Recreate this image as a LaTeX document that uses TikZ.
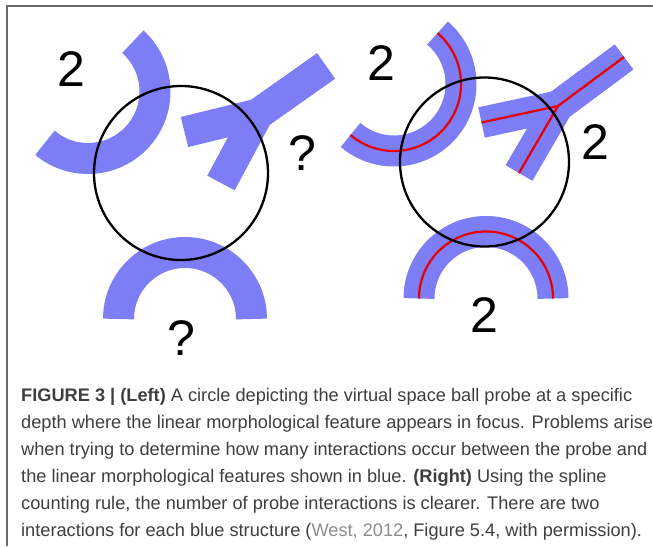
\documentclass[tikz,border=0pt]{standalone}
\usepackage{xcolor}
\usepackage{fontspec}
\setmainfont{Liberation Sans}
\usetikzlibrary{positioning}

\definecolor{dendrite}{RGB}{125,125,245}
\definecolor{spline}{RGB}{232,0,0}
\definecolor{captext}{RGB}{62,62,62}
\definecolor{citegray}{RGB}{140,140,140}
\definecolor{framegray}{RGB}{105,105,105}

\begin{document}
\begin{tikzpicture}[x=1pt, y=-1pt,
        branch/.style={draw=dendrite, line width=31pt, line cap=butt, line join=miter},
        midline/.style={draw=spline, line width=2.2pt, line join=miter},
        probe/.style={draw=black, line width=2.3pt, circle, inner sep=0pt},
        count/.style={font=\fontsize{50}{50}\selectfont, text=black, inner sep=0pt}]
        \useasboundingbox (0,0) rectangle (653,546);
        \draw[framegray, line width=1.7pt] (6.8,546) -- (6.8,5.8) -- (653,5.8);

        % left panel
        \coordinate (jL) at (258,114);
        \coordinate (aL) at (184.5,132);
        \coordinate (bL) at (326,66);
        \coordinate (cL) at (221,183);
        \draw[branch] ([shift={(-48:67)}]88,91.5) arc[start angle=-48, end angle=130, radius=67];
        \draw[branch] (aL) -- (jL) -- (bL);
        \draw[branch] (cL) -- (jL) -- (bL);
        \draw[branch] (118.5,319) arc[start angle=180, end angle=360, radius=66.5];
        \node[probe, minimum size=174pt] (probeL) at (181,173) {};
        \node[count] (twoL) at (71.5,69.5) {2};
        \node[count] (askY) at (302,153) {?};
        \node[count] (askU) at (181.5,338.5) {?};

        % right panel
        \coordinate (jR) at (558,106);
        \coordinate (aR) at (481.5,122.5);
        \coordinate (bR) at (624,57);
        \coordinate (cR) at (519,173);
        \draw[branch] ([shift={(-49.5:67)}]394,84) arc[start angle=-49.5, end angle=130.5, radius=67];
        \draw[branch] (aR) -- (jR) -- (bR);
        \draw[branch] (cR) -- (jR) -- (bR);
        \draw[branch] (419,298.5) arc[start angle=180, end angle=360, radius=67];
        \draw[midline] ([shift={(-49.5:67)}]394,84) arc[start angle=-49.5, end angle=130.5, radius=67];
        \draw[midline] (aR) -- (jR) -- (bR);
        \draw[midline] (cR) -- (jR);
        \draw[midline] (419,298.5) arc[start angle=180, end angle=360, radius=67];
        \node[probe, minimum size=169pt] (probeR) at (484.5,162) {};
        \node[count] (twoC) at (381,63) {2};
        \node[count] (twoY) at (595,142) {2};
        \node[count] (twoU) at (484.5,315.5) {2};

        % caption (anchored on its last baseline)
        \node[anchor=base west, align=left, inner sep=0pt, text=captext,
              font=\fontsize{18.2}{27}\selectfont] (caption) at (21,536.7)
        {\textbf{FIGURE 3 | (Left)} A circle depicting the virtual space ball probe at a specific\\
         depth where the linear morphological feature appears in focus. Problems arise\\
         when trying to determine how many interactions occur between the probe and\\
         the linear morphological features shown in blue. \textbf{(Right)} Using the spline\\
         counting rule, the number of probe interactions is clearer. There are two\\
         interactions for each blue structure ({\color{citegray}West, 2012}, Figure 5.4, with permission).};
\end{tikzpicture}
\end{document}
